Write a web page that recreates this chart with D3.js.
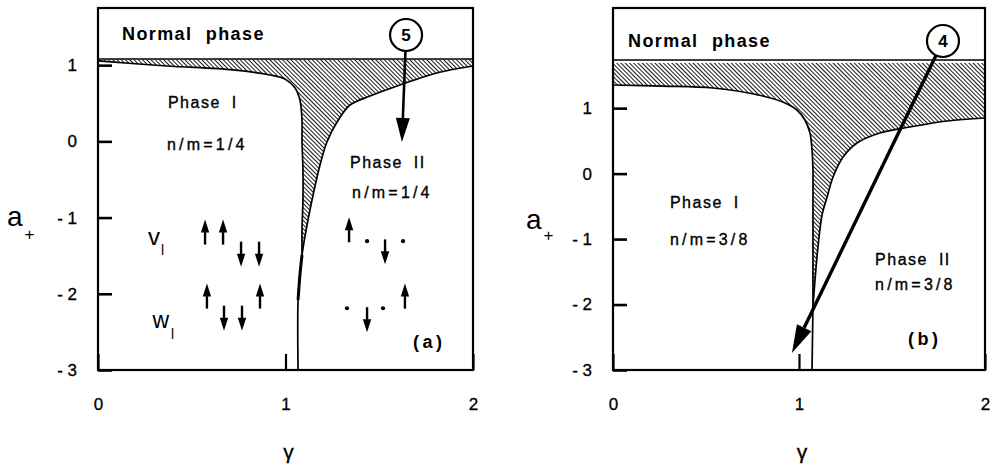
<!DOCTYPE html>
<html>
<head>
<meta charset="utf-8">
<script src="https://cdn.jsdelivr.net/npm/d3@7"></script>
<style>
  body { margin: 0; background: #fff; }
  svg { display: block; }
  text, tspan { font-family: "Liberation Sans", Arial, Helvetica, sans-serif; fill: #000; }
</style>
</head>
<body>
<svg id="chart" width="992" height="469"></svg>
<script>
// Tick values shared by both panels
const xTicks = [0, 1, 2];
const yTicks = [1, 0, -1, -2, -3];

// Panel (a), n/m = 1/4 : [gamma, a+]
const boundI_a = [[0, 1.055], [0.368, 0.989], [0.72, 0.937], [0.917, 0.871], [0.997, 0.818],
  [1.051, 0.70], [1.077, 0.543], [1.088, 0.281], [1.088, 0.018], [1.093, -0.376],
  [1.093, -0.769], [1.088, -1.163], [1.088, -1.491]];
const stem_a = [[1.088, -1.491], [1.077, -1.753], [1.067, -2.081], [1.067, -3]];
const boundII_a = [[2.0, 0.989], [1.877, 0.937], [1.787, 0.884], [1.611, 0.74], [1.451, 0.595],
  [1.344, 0.477], [1.275, 0.254], [1.221, -0.008], [1.184, -0.31], [1.147, -0.704],
  [1.12, -1.032], [1.099, -1.32], [1.088, -1.491]];
const normal_a = 1.08;
// spin patterns: s = 1 up, -1 down, 0 dot
const spins_a = [
  {g: 0.571, a: -1.19, s: 1}, {g: 0.667, a: -1.19, s: 1}, {g: 0.763, a: -1.48, s: -1}, {g: 0.859, a: -1.48, s: -1},
  {g: 0.581, a: -2.03, s: 1}, {g: 0.672, a: -2.32, s: -1}, {g: 0.768, a: -2.32, s: -1}, {g: 0.864, a: -2.03, s: 1},
  {g: 1.339, a: -1.16, s: 1}, {g: 1.435, a: -1.31, s: 0}, {g: 1.531, a: -1.45, s: -1}, {g: 1.627, a: -1.31, s: 0},
  {g: 1.328, a: -2.19, s: 0}, {g: 1.435, a: -2.34, s: -1}, {g: 1.52, a: -2.19, s: 0}, {g: 1.637, a: -2.03, s: 1}
];

// Panel (b), n/m = 3/8
const boundI_b = [[0, 1.354], [0.269, 1.338], [0.538, 1.308], [0.806, 1.186], [0.925, 1.079],
  [0.989, 0.972], [1.032, 0.819], [1.059, 0.62], [1.07, 0.361], [1.075, 0.055],
  [1.075, -0.403], [1.075, -1.167], [1.075, -2.038]];
const stem_b = [[1.075, -2.038], [1.07, -3]];
const boundII_b = [[2.0, 0.85], [1.796, 0.804], [1.597, 0.712], [1.435, 0.62], [1.312, 0.468],
  [1.237, 0.254], [1.183, -0.052], [1.151, -0.357], [1.124, -0.632], [1.102, -1.121],
  [1.086, -1.625], [1.075, -2.038]];
const normal_b = 1.736;

const svg = d3.select('#chart');

// diagonal hatching
svg.append('defs').append('pattern')
    .attr('id', 'hatch')
    .attr('patternUnits', 'userSpaceOnUse')
    .attr('width', 3)
    .attr('height', 10)
    .attr('patternTransform', 'rotate(-45)')
  .append('line')
    .attr('x1', 1.5).attr('y1', 0).attr('x2', 1.5).attr('y2', 10)
    .attr('stroke', '#000')
    .attr('stroke-width', 0.9);

function label(g, x, y, str, size, opts) {
  opts = opts || {};
  return g.append('text')
      .attr('x', x)
      .attr('y', y)
      .attr('font-size', size)
      .attr('font-weight', opts.bold ? 'bold' : null)
      .attr('letter-spacing', opts.ls || 0)
      .attr('word-spacing', opts.ws || 0)
      .attr('text-anchor', opts.anchor || 'start')
      .attr('stroke', opts.bold ? null : '#000')
      .attr('stroke-width', opts.bold ? null : 0.35)
      .text(str);
}

// numbered circle with an arrow pointing to a spot of the diagram
function pointer(g, c, t, num, width, headLen, headHalf) {
  const r = 16;
  const dx = t[0] - c[0], dy = t[1] - c[1];
  const len = Math.sqrt(dx * dx + dy * dy);
  const ux = dx / len, uy = dy / len;
  const bx = t[0] - ux * headLen, by = t[1] - uy * headLen;
  g.append('line')
      .attr('x1', c[0] + ux * r).attr('y1', c[1] + uy * r)
      .attr('x2', bx).attr('y2', by)
      .attr('stroke', '#000')
      .attr('stroke-width', width);
  g.append('path')
      .attr('d', 'M' + t[0] + ',' + t[1] +
        'L' + (bx - uy * headHalf) + ',' + (by + ux * headHalf) +
        'L' + (bx + uy * headHalf) + ',' + (by - ux * headHalf) + 'Z')
      .attr('fill', '#000');
  g.append('circle')
      .attr('cx', c[0]).attr('cy', c[1]).attr('r', r)
      .attr('fill', '#fff')
      .attr('stroke', '#000')
      .attr('stroke-width', 2.2);
  label(g, c[0], c[1] + 6, num, 17, {bold: true, anchor: 'middle'});
}

function drawPanel(p) {
  const g = svg.append('g');
  const x = d3.scaleLinear().domain([0, 2]).range([p.left, p.right]);
  const y = d3.scaleLinear().domain([-3, p.top]).range([370, 8]);
  const line = d3.line()
      .x(d => x(d[0]))
      .y(d => y(d[1]))
      .curve(d3.curveCatmullRom.alpha(0.5));

  // hatched region between the two phase boundaries
  const edgeB = line(p.boundII).replace(/^M/, 'L');
  const edgeA = line(p.boundI.slice().reverse()).replace(/^M/, 'L');
  g.append('path')
      .attr('d', 'M' + x(0) + ',' + y(p.hatchTop) + 'L' + x(2) + ',' + y(p.hatchTop) + edgeB + edgeA + 'Z')
      .attr('fill', 'url(#hatch)');

  [p.boundI, p.boundII, p.stem].forEach(function(pts) {
    g.append('path')
        .attr('d', line(pts))
        .attr('fill', 'none')
        .attr('stroke', '#000')
        .attr('stroke-width', 1.7);
  });
  if (p.thick) {
    g.append('path')
        .attr('d', line(p.stem.slice(0, p.thick)))
        .attr('fill', 'none')
        .attr('stroke', '#000')
        .attr('stroke-width', 3);
  }

  // normal phase boundary
  g.append('line')
      .attr('x1', x(0)).attr('x2', x(2))
      .attr('y1', y(p.normal)).attr('y2', y(p.normal))
      .attr('stroke', '#000')
      .attr('stroke-width', 1.6);

  // axes, ticks pointing inside
  const yAxis = d3.axisLeft(y)
      .tickValues(yTicks)
      .tickSizeInner(-14)
      .tickSizeOuter(0)
      .tickPadding(p.yPad)
      .tickFormat(d => d < 0 ? '- ' + (-d) : d);
  g.append('g')
      .attr('transform', 'translate(' + x(0) + ',0)')
      .call(yAxis)
      .call(a => a.select('.domain').remove())
      .call(a => a.selectAll('line').attr('stroke-width', 2.6))
      .call(a => a.selectAll('text').attr('font-size', 17).attr('stroke', '#000').attr('stroke-width', 0.3));

  const xAxis = d3.axisBottom(x)
      .tickValues(xTicks)
      .tickSizeInner(-16)
      .tickSizeOuter(0)
      .tickPadding(28)
      .tickFormat(d3.format('d'));
  g.append('g')
      .attr('transform', 'translate(0,' + y(-3) + ')')
      .call(xAxis)
      .call(a => a.select('.domain').remove())
      .call(a => a.selectAll('line').attr('stroke-width', 2.2))
      .call(a => a.selectAll('text').attr('font-size', 17).attr('stroke', '#000').attr('stroke-width', 0.3));

  // frame
  g.append('rect')
      .attr('x', x(0)).attr('y', y(p.top))
      .attr('width', x(2) - x(0))
      .attr('height', y(-3) - y(p.top))
      .attr('fill', 'none')
      .attr('stroke', '#000')
      .attr('stroke-width', 2.2);

  // axis titles
  const at = g.append('text')
      .attr('x', p.aLabel[0]).attr('y', p.aLabel[1])
      .attr('font-size', 28);
  at.append('tspan').text('a');
  at.append('tspan').attr('font-size', 17).attr('dx', 2).attr('dy', p.aLabel[2]).text('+');
  label(g, (x(0) + x(2)) / 2 + 3, 459, 'γ', 21, {anchor: 'middle'});

  // texts
  label(g, x(p.normalText[0]), y(p.normalText[1]), 'Normal phase', 18, {bold: true, ls: 1.4, ws: 7});
  p.texts.forEach(function(t) {
    label(g, x(t[0]), y(t[1]), t[2], 16, {ls: t[3], ws: 5});
  });
  label(g, x(p.tag[0]), y(p.tag[1]), p.tag[2], 18, {bold: true, ls: 3.5});

  pointer(g, [x(p.ptr[0]), y(p.ptr[1])], [x(p.ptr[2]), y(p.ptr[3])], p.ptr[4], p.ptr[5], p.ptr[6], p.ptr[7]);

  return {g: g, x: x, y: y};
}

const pa = drawPanel({
  left: 98, right: 473, top: 1.75,
  boundI: boundI_a, boundII: boundII_a, stem: stem_a, thick: 3,
  normal: normal_a, hatchTop: 1.07, yPad: 21,
  aLabel: [7, 226, 14],
  normalText: [0.128, 1.33],
  texts: [[0.373, 0.438, 'Phase I', 1.5], [0.368, -0.113, 'n/m=1/4', 3.2],
          [1.344, -0.349, 'Phase II', 1.5], [1.355, -0.743, 'n/m=1/4', 3.2]],
  tag: [1.68, -2.71, '(a)'],
  ptr: [1.643, 1.396, 1.621, -0.008, '5', 2.6, 24, 7]
});

// spin configurations in panel (a)
pa.g.selectAll('.spin')
  .data(spins_a)
  .join('g')
    .attr('class', 'spin')
    .attr('transform', d => 'translate(' + pa.x(d.g) + ',' + pa.y(d.a) + ')')
    .each(function(d) {
      const s = d3.select(this);
      if (d.s === 0) {
        s.append('circle').attr('r', 2.1).attr('fill', '#000');
        return;
      }
      s.append('line')
          .attr('x1', 0).attr('x2', 0)
          .attr('y1', 0).attr('y2', 12.5 * d.s)
          .attr('stroke', '#000').attr('stroke-width', 2.4);
      s.append('path')
          .attr('d', 'M0,' + (-12.5 * d.s) + 'L4.2,' + (0.5 * d.s) + 'L-4.2,' + (0.5 * d.s) + 'Z')
          .attr('fill', '#000');
    });

const vl = pa.g.append('text').attr('x', pa.x(0.267)).attr('y', pa.y(-1.36)).attr('font-size', 24);
vl.append('tspan').text('v');
vl.append('tspan').attr('font-size', 14).attr('dx', 1).attr('dy', 10).text('l');
const wl = pa.g.append('text').attr('x', pa.x(0.29)).attr('y', pa.y(-2.45)).attr('font-size', 23);
wl.append('tspan').text('w');
wl.append('tspan').attr('font-size', 14).attr('dx', 2).attr('dy', 11).text('l');

drawPanel({
  left: 613, right: 985, top: 2.53,
  boundI: boundI_b, boundII: boundII_b, stem: stem_b, thick: 0,
  normal: normal_b, hatchTop: 1.69, yPad: 21,
  aLabel: [526, 229, 12],
  normalText: [0.081, 1.93],
  texts: [[0.306, -0.525, 'Phase I', 1.5], [0.306, -1.09, 'n/m=3/8', 3.2],
          [1.409, -1.396, 'Phase II', 1.5], [1.409, -1.778, 'n/m=3/8', 3.2]],
  tag: [1.586, -2.618, '(b)'],
  ptr: [1.774, 2.026, 0.962, -2.74, '4', 3.4, 28, 8]
});
</script>
</body>
</html>
